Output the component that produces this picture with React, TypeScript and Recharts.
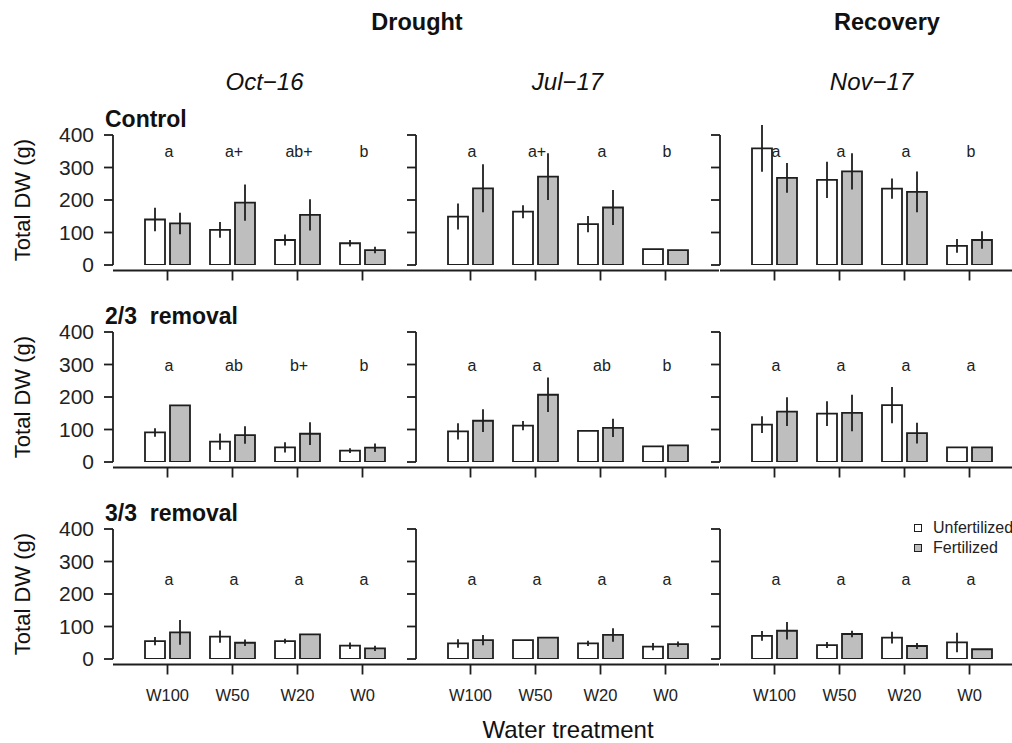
import { BarChart, Bar, XAxis, YAxis, ErrorBar, LabelList, Legend } from 'recharts'

const FONT = '"Liberation Sans", Arial, Helvetica, sans-serif'
const INK = '#1e1e1e'

const treatments = ['W100', 'W50', 'W20', 'W0']
const periods = ['Oct−16', 'Jul−17', 'Nov−17']
const removals = ['Control', '2/3  removal', '3/3  removal']
const seriesNames = ['Unfertilized', 'Fertilized']
const yTicks = [0, 100, 200, 300, 400]

// inner arrays: Oct-16, Jul-17, Nov-17
const controlUnfertilized = [[140, 108, 77, 67], [149, 164, 126, 49], [359, 262, 235, 59]]
const controlUnfertilizedErr = [[36, 24, 17, 10], [40, 20, 25, 0], [72, 56, 31, 21]]
const controlFertilized = [[128, 192, 154, 46], [236, 272, 177, 46], [268, 288, 225, 77]]
const controlFertilizedErr = [[33, 56, 48, 10], [74, 72, 54, 0], [46, 56, 63, 27]]
const controlLetters = [['a', 'a+', 'ab+', 'b'], ['a', 'a+', 'a', 'b'], ['a', 'a', 'a', 'b']]

const removal23Unfertilized = [[91, 63, 45, 35], [94, 112, 96, 48], [115, 149, 175, 45]]
const removal23UnfertilizedErr = [[13, 25, 16, 7], [25, 14, 0, 0], [26, 38, 56, 0]]
const removal23Fertilized = [[174, 83, 87, 44], [127, 207, 105, 51], [155, 151, 89, 45]]
const removal23FertilizedErr = [[0, 27, 35, 13], [35, 53, 28, 0], [44, 56, 32, 0]]
const removal23Letters = [['a', 'ab', 'b+', 'b'], ['a', 'a', 'ab', 'b'], ['a', 'a', 'a', 'a']]

const removal33Unfertilized = [[55, 69, 55, 41], [48, 58, 48, 38], [71, 43, 66, 51]]
const removal33UnfertilizedErr = [[13, 19, 7, 10], [13, 0, 8, 11], [15, 9, 18, 30]]
const removal33Fertilized = [[82, 50, 76, 33], [58, 66, 74, 46], [87, 77, 40, 30]]
const removal33FertilizedErr = [[38, 10, 0, 8], [16, 0, 21, 8], [27, 10, 9, 0]]
const removal33Letters = [['a', 'a', 'a', 'a'], ['a', 'a', 'a', 'a'], ['a', 'a', 'a', 'a']]

const rows = [
  { unf: controlUnfertilized, unfErr: controlUnfertilizedErr, fert: controlFertilized, fertErr: controlFertilizedErr, letters: controlLetters },
  { unf: removal23Unfertilized, unfErr: removal23UnfertilizedErr, fert: removal23Fertilized, fertErr: removal23FertilizedErr, letters: removal23Letters },
  { unf: removal33Unfertilized, unfErr: removal33UnfertilizedErr, fert: removal33Fertilized, fertErr: removal33FertilizedErr, letters: removal33Letters },
]

// layout (px). The y scale runs to 440 so error bars can poke above the 400 tick,
// the axis line itself is only drawn from 0 to 400 (R style).
const PLOT_LEFT = [113, 416, 720]
const AXIS_TOP = [135, 332, 529] // pixel row of the 400 tick
const PLOT_W = 303
const AXIS_H = 130 // 0..400
const HEAD = 13 // 400..440
const Y_MAX = 440
const Y_W = 60
const M_TOP = 4
const X_H = 50
const LETTER_OFFSET = [22, 39, 55.5]

const axisStyle = { stroke: INK, strokeWidth: 1.8 }
const yAxisLine = { ...axisStyle, strokeDasharray: `0 ${HEAD} ${AXIS_H} 400` }
const shifted = { ...axisStyle, transform: 'translate(0, 5.5)' }

const emptyTick = () => <g />

const treatmentTick = (p: any) => (
  <text x={p.x} y={p.y} dy="0.71em" textAnchor="middle" fontSize={16.5} fontFamily={FONT} fill="#222">
    {p.payload.value}
  </text>
)

const renderLegend = (props: any) => {
  const items = [...(props.payload || [])].sort(
    (a: any, b: any) => seriesNames.indexOf(a.value) - seriesNames.indexOf(b.value)
  )
  return (
    <div style={{ fontFamily: FONT, fontSize: 16, color: '#222', whiteSpace: 'nowrap' }}>
      {items.map((e: any) => (
        <div key={e.value} style={{ display: 'flex', alignItems: 'center', height: 20 }}>
          <span style={{ display: 'inline-block', width: 6, height: 6, border: `1.5px solid ${INK}`, background: e.color, marginRight: 11 }} />
          <span>{e.value}</span>
        </div>
      ))}
    </div>
  )
}

function Panel({ row, col }: { row: number; col: number }) {
  const r = rows[row]
  const data = treatments.map((t, i) => ({
    treatment: t,
    unfertilized: r.unf[col][i],
    unfertilizedErr: r.unfErr[col][i],
    fertilized: r.fert[col][i],
    fertilizedErr: r.fertErr[col][i],
    letter: r.letters[col][i],
  }))

  const letterLabel = (p: any) => {
    const vb = p.viewBox || p
    return (
      <text x={Number(vb.x) + Number(vb.width) + 4} y={M_TOP + HEAD + LETTER_OFFSET[row]} textAnchor="middle" fontSize={16} fontFamily={FONT} fill="#222">
        {p.value}
      </text>
    )
  }

  return (
    <div style={{ position: 'absolute', left: PLOT_LEFT[col] - Y_W, top: AXIS_TOP[row] - HEAD - M_TOP }}>
      <BarChart
        width={Y_W + PLOT_W}
        height={M_TOP + HEAD + AXIS_H + X_H}
        data={data}
        margin={{ top: M_TOP, right: 0, bottom: 0, left: 0 }}
        barSize={20}
        barGap={5}
      >
        <XAxis
          dataKey="treatment"
          height={X_H}
          padding={{ left: 22, right: 21 }}
          interval={0}
          axisLine={shifted}
          tickLine={shifted}
          tickSize={10}
          tickMargin={20}
          tick={row === 2 ? treatmentTick : emptyTick}
        />
        <YAxis
          domain={[0, Y_MAX]}
          allowDataOverflow
          ticks={yTicks}
          width={Y_W}
          axisLine={yAxisLine}
          tickLine={axisStyle}
          tickSize={9}
          tickMargin={10}
          tick={col === 0 ? { fontSize: 21, fill: '#222', fontFamily: FONT } : emptyTick}
        />
        <Bar dataKey="unfertilized" name={seriesNames[0]} fill="#ffffff" stroke={INK} strokeWidth={1.8} isAnimationActive={false}>
          <ErrorBar dataKey="unfertilizedErr" width={0} stroke={INK} strokeWidth={1.8} />
          <LabelList dataKey="letter" content={letterLabel} />
        </Bar>
        <Bar dataKey="fertilized" name={seriesNames[1]} fill="#bebebe" stroke={INK} strokeWidth={1.8} isAnimationActive={false}>
          <ErrorBar dataKey="fertilizedErr" width={0} stroke={INK} strokeWidth={1.8} />
        </Bar>
        {row === 2 && col === 2 && (
          <Legend
            layout="vertical"
            align="center"
            verticalAlign="middle"
            wrapperStyle={{ left: 254, top: HEAD - 7, width: 130 }}
            content={renderLegend}
          />
        )}
      </BarChart>
    </div>
  )
}

export default function App() {
  return (
    <div style={{ position: 'absolute', left: 0, top: 0, width: 1012, height: 743, overflow: 'hidden', background: '#fff' }}>
      {rows.map((_, row) =>
        periods.map((_, col) => <Panel key={`${row}-${col}`} row={row} col={col} />)
      )}
      <svg width={1012} height={743} style={{ position: 'absolute', left: 0, top: 0, pointerEvents: 'none' }} fontFamily={FONT} fill="#111">
        <text x={417} y={30} textAnchor="middle" fontSize={23.5} fontWeight="bold">Drought</text>
        <text x={887} y={30} textAnchor="middle" fontSize={23.5} fontWeight="bold">Recovery</text>
        {periods.map((p, col) => (
          <text key={p} x={PLOT_LEFT[col] + PLOT_W / 2} y={89.5} textAnchor="middle" fontSize={24} fontStyle="italic">{p}</text>
        ))}
        {removals.map((name, row) => (
          <g key={name}>
            <text x={105} y={AXIS_TOP[row] - 8.3} fontSize={23} fontWeight="bold" style={{ whiteSpace: 'pre' }}>{name}</text>
            <text
              x={30}
              y={AXIS_TOP[row] + AXIS_H / 2}
              transform={`rotate(-90 30 ${AXIS_TOP[row] + AXIS_H / 2})`}
              textAnchor="middle"
              fontSize={22}
            >
              Total DW (g)
            </text>
          </g>
        ))}
        <text x={568} y={738} textAnchor="middle" fontSize={24}>Water treatment</text>
      </svg>
    </div>
  )
}
